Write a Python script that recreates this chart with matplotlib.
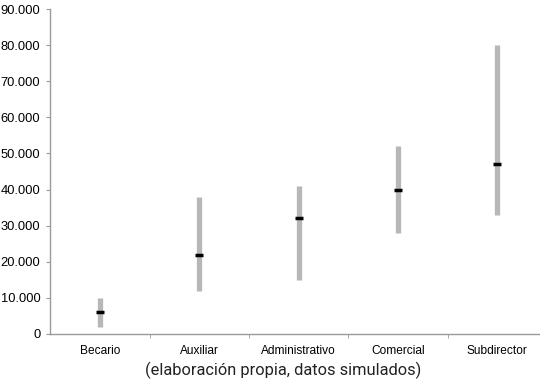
import matplotlib.pyplot as plt
from matplotlib.ticker import FuncFormatter, FixedLocator

categories = ["Becario", "Auxiliar", "Administrativo", "Comercial", "Subdirector"]
minimo = [2000, 12000, 15000, 28000, 33000]
maximo = [10000, 38000, 41000, 52000, 80000]
mediana = [6000, 22000, 32000, 40000, 47000]

fig = plt.figure(figsize=(5.4, 3.84), dpi=100)
ax = fig.add_axes([50 / 540, 1 - 334 / 384, 490 / 540, 325 / 384])

x = list(range(len(categories)))
ax.vlines(x, minimo, maximo, color="#b7b7b7", linewidth=3.8)
ax.plot(x, mediana, linestyle="none", marker="_", markersize=6,
        markeredgewidth=2.5, color="black")

ax.set_xlim(-0.504, 4.43)
ax.set_ylim(0, 90000)
ax.set_yticks(range(0, 90001, 10000))
ax.yaxis.set_major_formatter(FuncFormatter(lambda v, p: f"{int(v):,}".replace(",", ".")))
ax.set_xticks(x)
ax.set_xticklabels(categories)
ax.xaxis.set_minor_locator(FixedLocator([i + 0.5 for i in x]))
ax.tick_params(axis="x", which="major", length=0, pad=8, labelsize=8.6)
ax.tick_params(axis="x", which="minor", length=3, color="#9a9a9a", direction="out")
ax.tick_params(axis="y", length=3, color="#9a9a9a", labelsize=9.3, pad=4)

for s in ("top", "right"):
    ax.spines[s].set_visible(False)
for s in ("left", "bottom"):
    ax.spines[s].set_color("#9a9a9a")
    ax.spines[s].set_linewidth(1.0)

for lab in ax.get_xticklabels() + ax.get_yticklabels():
    lab.set_family(["Liberation Sans", "DejaVu Sans"])

fig.text(283 / 540, 1 - 370 / 384, "(elaboración propia, datos simulados)",
         ha="center", va="center", fontsize=11.8,
         family=["Roboto", "DejaVu Sans"], color="#222222")

fig.savefig("out.png", dpi=100)
